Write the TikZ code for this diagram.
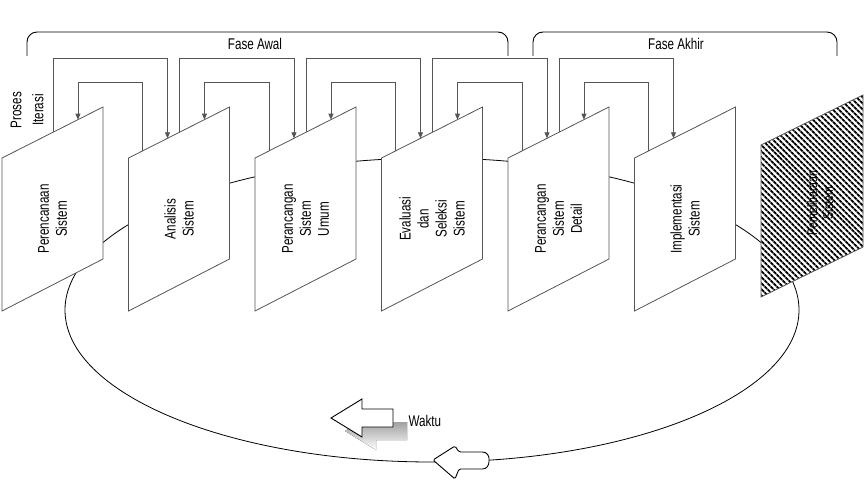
\documentclass[tikz,border=0pt]{standalone}
\usepackage{fontspec}
\setmainfont{Liberation Sans}[FakeStretch=0.75]
\usetikzlibrary{arrows.meta,calc,patterns.meta}
\definecolor{lineg}{HTML}{555555}
\definecolor{shade}{HTML}{BBBBBB}

\begin{document}
\begin{tikzpicture}[x=1pt,y=-1pt,>={Triangle[length=6pt,width=5pt]},
  panel/.style={draw=lineg,line width=0.8pt,fill=white},
  iter/.style={draw=lineg,line width=0.8pt},
  bracket/.style={draw=black,line width=0.9pt,rounded corners=10pt},
  lbl/.style={rotate=90,align=center,inner sep=0pt,font=\fontsize{15.5}{18}\selectfont}]
\useasboundingbox (0,0) rectangle (864,484);
% siklus waktu
\draw[line width=0.8pt] (432,310) ellipse [x radius=367pt, y radius=152pt];
% tahap-tahap
\foreach \i/\txt in {1/{Perencanaan\\Sistem},2/{Analisis\\Sistem},3/{Perancangan\\Sistem\\Umum},
  4/{Evaluasi\\dan\\Seleksi\\Sistem},5/{Perancangan\\Sistem\\Detail},6/{Implementasi\\Sistem}}{
  \pgfmathsetmacro{\L}{2+126.5*(\i-1)}
  \coordinate (p\i-tl) at (\L,158);
  \coordinate (p\i-tr) at (\L+101,107);
  \coordinate (p\i-br) at (\L+101,259);
  \coordinate (p\i-bl) at (\L,311);
  \draw[panel] (p\i-tl) -- (p\i-tr) -- (p\i-br) -- (p\i-bl) -- cycle;
  \node[lbl] (t\i) at (\L+50.5,219) {\txt};
}
% pemeliharaan
\coordinate (p7-tl) at (761,145);
\coordinate (p7-tr) at (863,95);
\coordinate (p7-br) at (863,247);
\coordinate (p7-bl) at (761,297);
\fill[white] (p7-tl) -- (p7-tr) -- (p7-br) -- (p7-bl) -- cycle;
\draw[draw=lineg,line width=0.8pt,pattern={Lines[angle=-45,distance=4pt,line width=2pt]}]
  (p7-tl) -- (p7-tr) -- (p7-br) -- (p7-bl) -- cycle;
\node[lbl,font=\fontsize{14}{16}\selectfont] (t7) at (820,203) {Pemeliharaan\\Sistem};
% proses iterasi
\coordinate (outer) at (0,58);
\coordinate (inner) at (0,82);
\foreach \i [evaluate=\i as \j using int(\i+1)] in {1,...,5}{
  \coordinate (os\i) at ($(p\i-tl)!0.505!(p\i-tr)$);
  \coordinate (oe\i) at ($(p\j-tl)!0.386!(p\j-tr)$);
  \coordinate (is\i) at ($(p\j-tl)!0.139!(p\j-tr)$);
  \coordinate (ie\i) at ($(p\i-tl)!0.752!(p\i-tr)$);
  \draw[iter,->] (os\i) -- (os\i |- outer) -| (oe\i);
  \draw[iter,->] (is\i) -- (is\i |- inner) -| (ie\i);
}
\node[lbl,font=\fontsize{15.5}{22}\selectfont] (proses) at (27,110) {Proses\\Iterasi};
% fase
\draw[bracket] (27,56) |- (508,32) -- (508,56);
\draw[bracket] (533,56) |- (837,32) -- (837,56);
\node[font=\fontsize{15.5}{18}\selectfont] (awal) at (255,44) {Fase Awal};
\node[font=\fontsize{15.5}{18}\selectfont] (akhir) at (676,44) {Fase Akhir};
% waktu
\def\waktuarrow{(331,418) -- (362,399) -- (362,409) -- (393,409) -- (393,427) -- (362,427) -- (362,437) -- cycle}
\fill[shade,shift={(14,13)}] \waktuarrow;
\draw[line width=0.9pt,fill=white] \waktuarrow;
\node[anchor=west,font=\fontsize{15.5}{18}\selectfont] (waktu) at (405,421) {Waktu};
\draw[line width=0.9pt,fill=white,rounded corners=1.5pt] (433,460) -- (455,446) -- (459,452) -- (481,452)
  .. controls (487,452) and (489,456) .. (489,460) .. controls (489,465) and (487,469) .. (481,469)
  -- (459,469) -- (455,479) -- cycle;
\end{tikzpicture}
\end{document}
